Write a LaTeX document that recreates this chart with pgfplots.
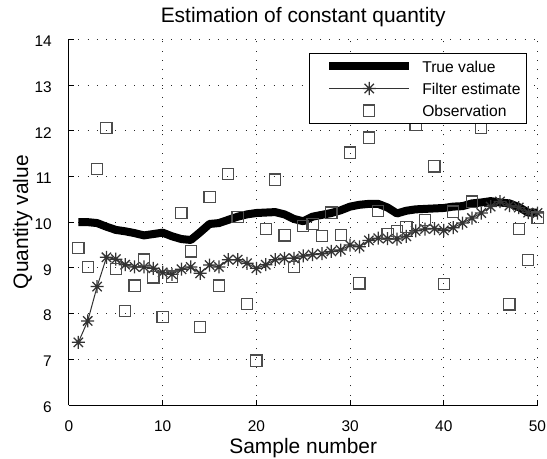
\documentclass[border=0pt]{standalone}
\usepackage{fontspec}
\setmainfont{Liberation Sans}
\usepackage{pgfplots}
\pgfplotsset{compat=1.18}
\pgfdeclareplotmark{mstar}{%
  \pgfpathmoveto{\pgfqpoint{-\pgfplotmarksize}{0pt}}\pgfpathlineto{\pgfqpoint{\pgfplotmarksize}{0pt}}%
  \pgfpathmoveto{\pgfqpoint{0pt}{-\pgfplotmarksize}}\pgfpathlineto{\pgfqpoint{0pt}{\pgfplotmarksize}}%
  \pgfpathmoveto{\pgfqpoint{-0.72\pgfplotmarksize}{-0.72\pgfplotmarksize}}\pgfpathlineto{\pgfqpoint{0.72\pgfplotmarksize}{0.72\pgfplotmarksize}}%
  \pgfpathmoveto{\pgfqpoint{-0.72\pgfplotmarksize}{0.72\pgfplotmarksize}}\pgfpathlineto{\pgfqpoint{0.72\pgfplotmarksize}{-0.72\pgfplotmarksize}}%
  \pgfusepathqstroke}
\pgfplotsset{
  legA/.style={legend image code/.code={\path (0bp,0bp); \draw[##1] (10bp,0bp) -- (90bp,0bp);}},
  legB/.style={legend image code/.code={\path (0bp,0bp); \draw[##1, mark repeat=2, mark phase=2] plot coordinates {(10bp,0bp) (50bp,0bp) (90bp,0bp)};}},
  legC/.style={legend image code/.code={\path (0bp,0bp) (90bp,0bp); \draw[##1] plot coordinates {(50bp,0bp)};}},
}
\begin{document}
\begin{tikzpicture}
\useasboundingbox (-69bp,-54bp) rectangle (478bp,405bp);
\begin{axis}[
  at={(0,0)}, anchor=south west,
  scale only axis, width=468.5bp, height=365.7bp,
  xmin=0, xmax=50, ymin=6, ymax=14,
  clip=false,
  axis x line*=bottom, axis y line*=left,
  axis line style={-, black, line width=1bp},
  xtick={0,10,...,50}, ytick={6,7,...,14},
  tick align=inside, major tick length=5bp,
  tick style={black, line width=1bp},
  grid=major,
  grid style={black!85, line width=1bp, dash pattern=on 1bp off 8.3bp},
  /pgf/number format/assume math mode=true,
  tick label style={font=\fontsize{15.5}{18}\selectfont},
  xticklabel style={anchor=base, inner sep=0pt, yshift=-26bp},
  yticklabel style={anchor=east, inner sep=0pt, xshift=-17bp, yshift=-2bp},
  title={Estimation of constant quantity},
  every axis title/.style={at={(0.5,1.0473)}, anchor=base, font=\fontsize{21}{25}\selectfont},
  xlabel={Sample number},
  every axis x label/.style={at={(0.5,-0.1326)}, anchor=base, font=\fontsize{21}{25}\selectfont},
  ylabel={Quantity value},
  every axis y label/.style={at={(-0.0875,0.5)}, anchor=base, rotate=90, font=\fontsize{21}{25}\selectfont},
  legend cell align=left,
  legend style={at={(0.97759,0.96336)}, anchor=north east,
    draw=black, line width=1bp, fill=white,
    inner xsep=6bp, inner ysep=7.5bp,
    font=\fontsize{15.7}{18}\selectfont,
    nodes={inner sep=0pt, text height=11.5bp, text depth=0bp},
    row sep=9.8bp,
    /tikz/every odd column/.append style={column sep=9bp}},
]
\addplot[black, line width=8bp, line join=round, legA]
table {
x y
1 10.00
2 10.00
3 9.98
4 9.90
5 9.83
6 9.80
7 9.76
8 9.71
9 9.74
10 9.77
11 9.69
12 9.63
13 9.61
14 9.78
15 9.96
16 9.98
17 10.05
18 10.12
19 10.17
20 10.20
21 10.21
22 10.22
23 10.17
24 10.07
25 10.02
26 10.12
27 10.16
28 10.20
29 10.26
30 10.34
31 10.38
32 10.40
33 10.40
34 10.32
35 10.19
36 10.25
37 10.28
38 10.29
39 10.30
40 10.31
41 10.34
42 10.35
43 10.41
44 10.43
45 10.46
46 10.43
47 10.41
48 10.33
49 10.21
50 10.21
};
\addlegendentry{True value}
\addplot[black!80, line width=1bp, mark=mstar, mark size=6.5bp,
  mark options={solid, line width=1.25bp}, legB]
table {
x y
1 7.37
2 7.84
3 8.59
4 9.23
5 9.19
6 9.07
7 9.02
8 9.02
9 8.99
10 8.90
11 8.86
12 8.97
13 9.02
14 8.88
15 9.06
16 9.02
17 9.18
18 9.18
19 9.10
20 8.99
21 9.07
22 9.18
23 9.21
24 9.21
25 9.26
26 9.29
27 9.31
28 9.36
29 9.39
30 9.50
31 9.46
32 9.60
33 9.65
34 9.64
35 9.63
36 9.69
37 9.81
38 9.85
39 9.86
40 9.82
41 9.88
42 9.98
43 10.09
44 10.20
45 10.34
46 10.45
47 10.36
48 10.32
49 10.21
50 10.20
};
\addlegendentry{Filter estimate}
\addplot[black!70, only marks, mark=square, mark size=5.6bp,
  mark options={solid, line width=1.2bp}, legC]
table {
x y
1 9.43
2 9.02
3 11.16
4 12.06
5 8.97
6 8.05
7 8.61
8 9.18
9 8.79
10 7.92
11 8.81
12 10.20
13 9.36
14 7.70
15 10.55
16 8.61
17 11.05
18 10.11
19 8.21
20 6.97
21 9.85
22 10.93
23 9.71
24 9.02
25 9.92
26 9.96
27 9.70
28 10.21
29 9.72
30 11.52
31 8.66
32 11.85
33 10.24
34 9.74
35 9.81
36 9.90
37 12.13
38 10.05
39 11.22
40 8.65
41 10.23
42 12.80
43 10.45
44 12.06
45 13.30
46 12.50
47 8.20
48 9.85
49 9.17
50 10.10
};
\addlegendentry{Observation}
\end{axis}
\end{tikzpicture}
\end{document}
